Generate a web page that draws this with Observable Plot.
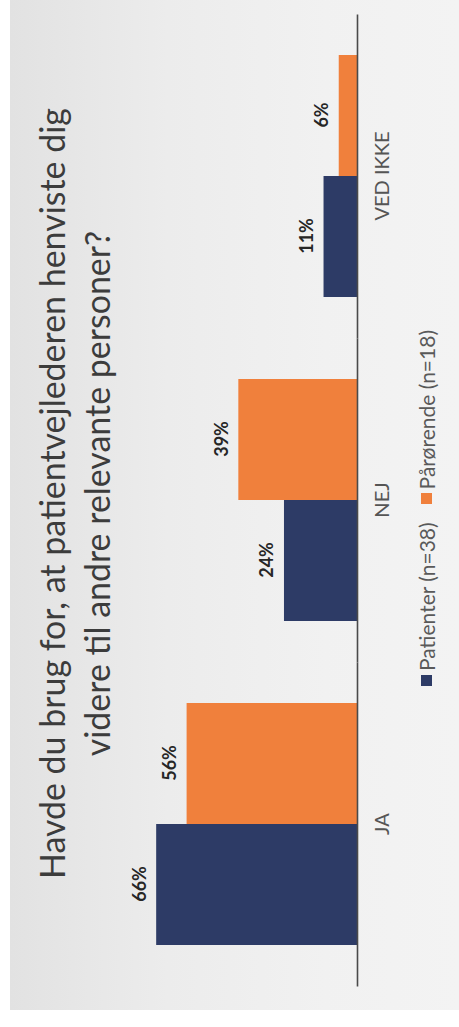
<!DOCTYPE html>
<html>
<head>
<meta charset="utf-8">
<script src="https://cdn.jsdelivr.net/npm/d3@7"></script>
<script src="https://cdn.jsdelivr.net/npm/@observablehq/plot@0.6"></script>
<style>
  html, body { margin: 0; padding: 0; width: 459px; height: 1027px; overflow: hidden; background: #ffffff; }
  #bg { position: absolute; left: 10px; top: 0; width: 449px; height: 1010px;
        background: linear-gradient(to right, #e2e2e2 0%, #ececec 35%, #f1f1f1 70%, #f3f3f3 100%); }
  #rot { position: absolute; left: 0; top: 0; width: 1027px; height: 459px;
         transform-origin: 0 0; transform: translate(0px, 1027px) rotate(-90deg);
         font-family: Lato, "Open Sans", sans-serif; }
  #title { padding-top: 29px; padding-left: 40px; height: 90px; text-align: center;
           color: #3c3c3c; font-size: 30px; line-height: 45px; }
  #title div { height: 45px; }
  #title span { display: inline-block; white-space: nowrap; }
  #legendwrap { display: flex; justify-content: center; padding-left: 29px; margin-top: 5px; }
  .lg-swatches { min-height: 0 !important; }
  .lg-swatch { margin-right: 18px !important; }
  .lg-swatch > svg { margin-right: 4px !important; }
</style>
</head>
<body>
<div id="bg"></div>
<div id="rot">
  <div id="title"><div><span id="t1"></span></div><div><span id="t2"></span></div></div>
  <div id="chart"></div>
  <div id="legendwrap"></div>
</div>
<script>
// ---- data ----
const titleLines = ["Havde du brug for, at patientvejlederen henviste dig", "videre til andre relevante personer?"];
const categories = ["JA", "NEJ", "VED IKKE"];
const series = ["Patienter (n=38)", "Pårørende (n=18)"];
const patienter = [66, 24, 11];
const paaroerende = [56, 39, 6];
const colors = ["#2d3b66", "#f0803c"];

const data = categories.flatMap((c, i) => [
  {cat: c, series: series[0], value: patienter[i]},
  {cat: c, series: series[1], value: paaroerende[i]}
]);

// ---- title (fit width of first line) ----
const t1 = document.getElementById("t1");
t1.textContent = titleLines[0];
document.getElementById("t2").textContent = titleLines[1];
const titleEl = document.getElementById("title");
let fs = 30;
for (let k = 0; k < 3; k++) {
  titleEl.style.fontSize = fs + "px";
  const w = t1.offsetWidth;
  if (w > 0) fs = fs * 771 / w;
}
titleEl.style.fontSize = fs + "px";

// ---- chart ----
const chart = Plot.plot({
  width: 1027,
  height: 290,
  marginTop: 25,
  marginBottom: 52,
  marginLeft: 40,
  marginRight: 15,
  style: {fontFamily: "Lato, sans-serif", background: "transparent", overflow: "visible"},
  fx: {domain: categories, paddingInner: 0.25, paddingOuter: 0.125, label: null},
  x: {domain: series, padding: 0, axis: null},
  y: {domain: [0, 70], axis: null},
  color: {domain: series, range: colors},
  marks: [
    Plot.barY(data, {fx: "cat", x: "series", y: "value", fill: "series"}),
    Plot.ruleY([0], {stroke: "#4a4a4a", strokeWidth: 1.6, insetLeft: -40.5, insetRight: -40.5}),
    Plot.text(data, {
      fx: "cat", x: "series", y: "value",
      text: d => d.value + "%",
      lineAnchor: "bottom", dy: -11,
      fontWeight: "bold", fontSize: 18, fill: "#262626"
    }),
    Plot.axisFx({anchor: "bottom", tickSize: 0, tickPadding: 17, label: null, fontSize: 20, color: "#555555"})
  ]
});
document.getElementById("chart").appendChild(chart);

// ---- legend ----
const legend = Plot.legend({
  color: {type: "ordinal", domain: series, range: colors},
  swatchSize: 11,
  className: "lg",
  style: {fontFamily: "Lato, sans-serif", fontSize: "21px", color: "#595959"}
});
document.getElementById("legendwrap").appendChild(legend);
</script>
</body>
</html>
